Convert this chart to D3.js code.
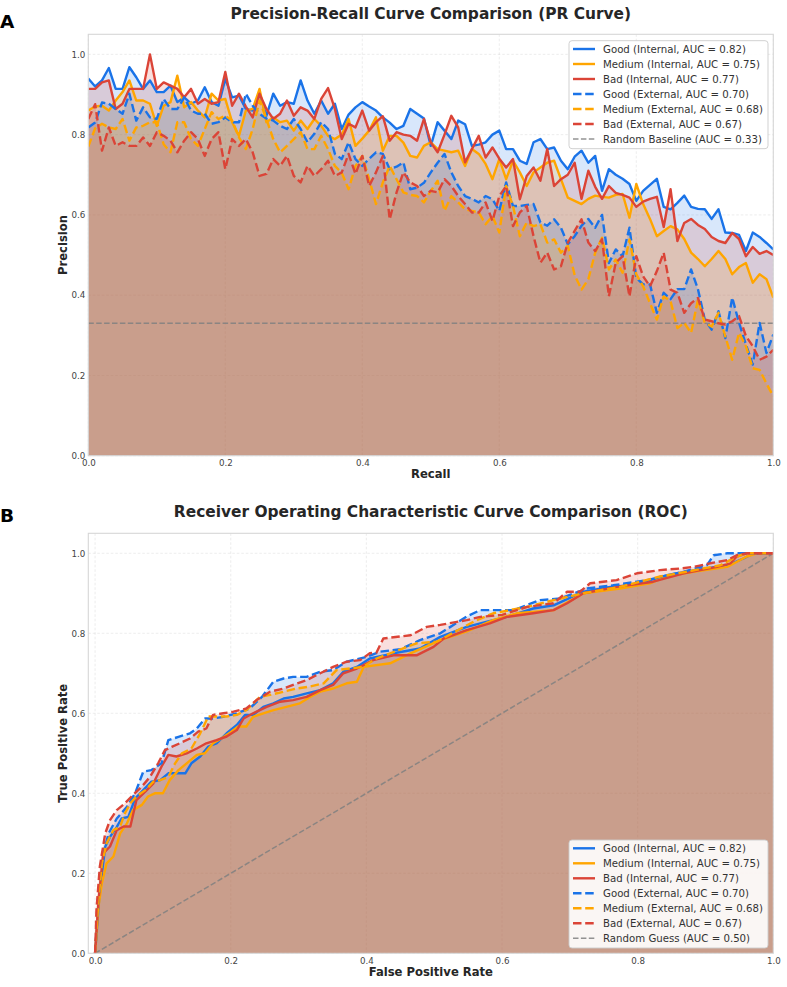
<!DOCTYPE html>
<html><head><meta charset="utf-8">
<script src="https://cdn.jsdelivr.net/npm/d3@7"></script>
<style>body{margin:0;background:#fff} svg{display:block;font-family:"DejaVu Sans",sans-serif}</style>
</head><body><svg id="c" width="787" height="987"></svg>
<script>
// ---------- DATA ----------
const seriesNames = ["Good (Internal, AUC = 0.82)","Medium (Internal, AUC = 0.75)","Bad (Internal, AUC = 0.77)",
  "Good (External, AUC = 0.70)","Medium (External, AUC = 0.68)","Bad (External, AUC = 0.67)"];
const seriesColors = ["#1a73e8","#ffa500","#db4437","#1a73e8","#ffa500","#db4437"];
const seriesDashed = [false,false,false,true,true,true];
const prBaselineLabel = "Random Baseline (AUC = 0.33)";
const rocBaselineLabel = "Random Guess (AUC = 0.50)";
const prBaselineValue = 0.33;
const xTicks = [0,0.2,0.4,0.6,0.8,1.0];
const yTicks = [0,0.2,0.4,0.6,0.8,1.0];

const recall = d3.range(0,101).map(i=>i/100);
const prGoodInt = [0.94,0.92,0.935,0.966,0.914,0.914,0.968,0.943,0.914,0.935,
0.906,0.906,0.922,0.881,0.893,0.877,0.885,0.918,0.881,0.872,
0.939,0.893,0.897,0.864,0.86,0.902,0.847,0.902,0.872,0.881,
0.877,0.935,0.885,0.852,0.885,0.852,0.877,0.814,0.85,0.868,
0.881,0.87,0.86,0.843,0.83,0.814,0.822,0.864,0.852,0.84,
0.772,0.831,0.81,0.789,0.835,0.826,0.772,0.775,0.781,0.8,
0.81,0.764,0.764,0.735,0.727,0.781,0.789,0.764,0.768,0.735,
0.714,0.745,0.76,0.73,0.747,0.66,0.714,0.70,0.69,0.677,
0.635,0.66,0.675,0.69,0.62,0.614,0.63,0.648,0.62,0.615,
0.614,0.59,0.614,0.556,0.555,0.55,0.51,0.556,0.545,0.53,
0.514];
const prMediumInt = [0.86,0.87,0.872,0.86,0.885,0.906,0.935,0.885,0.885,0.877,
0.822,0.872,0.881,0.947,0.868,0.881,0.86,0.843,0.902,0.885,
0.889,0.831,0.797,0.86,0.864,0.914,0.831,0.843,0.831,0.835,
0.81,0.835,0.814,0.839,0.822,0.797,0.789,0.8,0.839,0.772,
0.79,0.81,0.843,0.76,0.797,0.797,0.78,0.747,0.743,0.772,
0.781,0.764,0.76,0.756,0.76,0.722,0.764,0.752,0.727,0.689,
0.739,0.689,0.735,0.706,0.672,0.706,0.718,0.73,0.735,0.689,
0.643,0.635,0.627,0.64,0.648,0.645,0.643,0.65,0.652,0.593,
0.677,0.627,0.59,0.547,0.56,0.572,0.564,0.54,0.506,0.49,
0.472,0.49,0.51,0.49,0.452,0.47,0.48,0.431,0.452,0.44,
0.394];
const prBadInt = [0.914,0.914,0.93,0.935,0.864,0.877,0.914,0.914,0.914,1.0,
0.914,0.93,0.922,0.914,0.893,0.914,0.877,0.889,0.877,0.881,
0.956,0.872,0.902,0.87,0.843,0.902,0.864,0.839,0.852,0.885,
0.847,0.868,0.86,0.839,0.889,0.916,0.864,0.789,0.827,0.818,
0.86,0.81,0.831,0.846,0.785,0.806,0.8,0.797,0.785,0.839,
0.78,0.756,0.8,0.847,0.818,0.731,0.764,0.797,0.743,0.768,
0.74,0.718,0.739,0.639,0.697,0.718,0.685,0.764,0.672,0.689,
0.70,0.73,0.64,0.71,0.67,0.64,0.672,0.655,0.65,0.643,
0.62,0.633,0.64,0.645,0.57,0.664,0.535,0.58,0.59,0.575,
0.565,0.545,0.535,0.53,0.555,0.54,0.497,0.52,0.503,0.51,
0.50];
const prGoodExt = [0.818,0.83,0.88,0.877,0.864,0.852,0.902,0.835,0.868,0.843,
0.839,0.889,0.864,0.864,0.893,0.86,0.852,0.852,0.827,0.831,
0.843,0.831,0.831,0.902,0.872,0.852,0.84,0.835,0.822,0.814,
0.839,0.814,0.781,0.802,0.831,0.814,0.752,0.739,0.781,0.739,
0.722,0.74,0.756,0.752,0.714,0.72,0.731,0.664,0.668,0.68,
0.706,0.73,0.752,0.706,0.672,0.647,0.64,0.631,0.647,0.639,
0.61,0.681,0.622,0.622,0.625,0.627,0.581,0.573,0.589,0.568,
0.527,0.547,0.573,0.59,0.568,0.60,0.48,0.514,0.497,0.568,
0.443,0.427,0.427,0.356,0.406,0.39,0.415,0.415,0.464,0.415,
0.339,0.314,0.36,0.293,0.394,0.331,0.277,0.227,0.331,0.256,
0.302];
const prMediumExt = [0.77,0.816,0.827,0.818,0.814,0.839,0.785,0.818,0.822,0.831,
0.831,0.776,0.756,0.831,0.831,0.789,0.772,0.814,0.856,0.839,
0.847,0.835,0.793,0.764,0.814,0.885,0.839,0.789,0.756,0.772,
0.789,0.806,0.764,0.764,0.797,0.764,0.722,0.705,0.664,0.722,
0.747,0.689,0.627,0.681,0.722,0.689,0.656,0.65,0.647,0.631,
0.66,0.685,0.61,0.647,0.631,0.614,0.61,0.606,0.577,0.597,
0.556,0.672,0.622,0.547,0.581,0.572,0.577,0.531,0.539,0.506,
0.523,0.45,0.414,0.44,0.506,0.543,0.464,0.489,0.456,0.539,
0.452,0.422,0.38,0.339,0.397,0.385,0.318,0.331,0.306,0.389,
0.331,0.322,0.356,0.297,0.239,0.306,0.273,0.218,0.214,0.18,
0.148];
const prBadExt = [0.839,0.876,0.76,0.818,0.772,0.781,0.772,0.772,0.793,0.772,
0.806,0.797,0.785,0.756,0.785,0.806,0.789,0.747,0.789,0.806,
0.714,0.789,0.772,0.789,0.756,0.697,0.702,0.739,0.722,0.747,
0.697,0.681,0.722,0.697,0.714,0.735,0.697,0.706,0.752,0.702,
0.747,0.672,0.706,0.747,0.589,0.656,0.706,0.681,0.672,0.647,
0.66,0.656,0.689,0.672,0.647,0.627,0.606,0.606,0.631,0.585,
0.647,0.672,0.572,0.606,0.622,0.547,0.481,0.506,0.464,0.472,
0.531,0.56,0.589,0.531,0.51,0.539,0.397,0.481,0.497,0.397,
0.497,0.447,0.422,0.46,0.506,0.414,0.406,0.356,0.38,0.393,
0.339,0.335,0.33,0.327,0.335,0.348,0.298,0.273,0.239,0.247,
0.264];

// ROC: [fpr, tpr]
const rocGoodInt = [[0,0],[0.007,0.158],[0.015,0.267],[0.022,0.291],[0.032,0.316],[0.039,0.337],[0.049,0.341],[0.059,0.387],[0.071,0.408],[0.083,0.429],[0.096,0.433],[0.108,0.45],[0.12,0.45],[0.133,0.45],[0.142,0.475],[0.155,0.492],[0.167,0.517],[0.179,0.525],[0.194,0.55],[0.209,0.571],[0.221,0.596],[0.233,0.596],[0.248,0.616],[0.263,0.625],[0.278,0.637],[0.292,0.641],[0.312,0.65],[0.332,0.658],[0.351,0.675],[0.366,0.704],[0.386,0.716],[0.405,0.737],[0.44,0.75],[0.479,0.762],[0.509,0.791],[0.548,0.816],[0.578,0.829],[0.607,0.841],[0.646,0.862],[0.676,0.87],[0.72,0.904],[0.76,0.916],[0.794,0.92],[0.818,0.933],[0.843,0.945],[0.872,0.954],[0.902,0.962],[0.932,0.97],[0.956,0.987],[0.971,1.0],[1.0,1.0]];
const rocMediumInt = [[0,0],[0.005,0.117],[0.01,0.175],[0.017,0.225],[0.027,0.242],[0.037,0.3],[0.047,0.325],[0.056,0.358],[0.069,0.371],[0.078,0.392],[0.088,0.4],[0.1,0.4],[0.11,0.433],[0.123,0.458],[0.135,0.475],[0.15,0.496],[0.162,0.5],[0.174,0.525],[0.186,0.537],[0.201,0.554],[0.211,0.567],[0.223,0.567],[0.233,0.591],[0.248,0.6],[0.263,0.608],[0.282,0.616],[0.302,0.625],[0.317,0.641],[0.332,0.654],[0.351,0.662],[0.371,0.675],[0.386,0.679],[0.396,0.716],[0.435,0.725],[0.465,0.75],[0.509,0.783],[0.548,0.805],[0.587,0.833],[0.622,0.85],[0.676,0.858],[0.72,0.9],[0.774,0.912],[0.818,0.925],[0.843,0.942],[0.882,0.954],[0.932,0.966],[0.961,0.992],[0.976,1.0],[1.0,1.0]];
const rocBadInt = [[0,0],[0.005,0.133],[0.012,0.25],[0.022,0.267],[0.032,0.308],[0.042,0.317],[0.052,0.317],[0.061,0.383],[0.074,0.404],[0.086,0.425],[0.098,0.467],[0.108,0.496],[0.12,0.492],[0.135,0.5],[0.15,0.512],[0.164,0.525],[0.179,0.533],[0.194,0.542],[0.209,0.558],[0.219,0.587],[0.233,0.6],[0.253,0.616],[0.273,0.629],[0.292,0.633],[0.312,0.641],[0.332,0.658],[0.351,0.671],[0.366,0.7],[0.386,0.712],[0.41,0.733],[0.44,0.745],[0.474,0.745],[0.499,0.766],[0.514,0.787],[0.548,0.808],[0.582,0.825],[0.607,0.841],[0.646,0.85],[0.676,0.858],[0.696,0.875],[0.72,0.9],[0.769,0.916],[0.823,0.929],[0.868,0.95],[0.917,0.966],[0.937,0.975],[0.946,0.992],[0.961,1.0],[1.0,1.0]];
const rocGoodExt = [[0,0],[0.005,0.133],[0.012,0.25],[0.02,0.3],[0.032,0.337],[0.047,0.366],[0.059,0.4],[0.071,0.454],[0.083,0.458],[0.098,0.475],[0.108,0.533],[0.123,0.541],[0.14,0.55],[0.15,0.562],[0.162,0.587],[0.174,0.587],[0.189,0.591],[0.209,0.6],[0.228,0.612],[0.246,0.641],[0.263,0.679],[0.278,0.687],[0.292,0.691],[0.312,0.691],[0.332,0.704],[0.351,0.708],[0.371,0.729],[0.4,0.741],[0.42,0.754],[0.45,0.76],[0.479,0.783],[0.509,0.8],[0.548,0.842],[0.568,0.858],[0.617,0.858],[0.656,0.883],[0.686,0.887],[0.725,0.912],[0.764,0.92],[0.814,0.933],[0.843,0.945],[0.868,0.954],[0.902,0.97],[0.912,0.995],[0.932,1.0],[1.0,1.0]];
const rocMediumExt = [[0,0],[0.001,0.025],[0.005,0.133],[0.01,0.225],[0.017,0.275],[0.027,0.308],[0.037,0.317],[0.044,0.35],[0.052,0.375],[0.061,0.392],[0.074,0.408],[0.086,0.429],[0.096,0.433],[0.108,0.441],[0.118,0.475],[0.128,0.5],[0.142,0.512],[0.155,0.55],[0.167,0.592],[0.179,0.592],[0.194,0.592],[0.209,0.596],[0.223,0.608],[0.243,0.641],[0.258,0.646],[0.278,0.654],[0.297,0.662],[0.317,0.667],[0.337,0.675],[0.356,0.708],[0.376,0.712],[0.395,0.716],[0.415,0.737],[0.474,0.775],[0.504,0.779],[0.558,0.829],[0.587,0.85],[0.637,0.866],[0.686,0.887],[0.72,0.9],[0.774,0.916],[0.833,0.942],[0.872,0.954],[0.922,0.97],[0.946,0.992],[0.961,1.0],[1.0,1.0]];
const rocBadExt = [[0,0],[0.001,0.05],[0.002,0.108],[0.007,0.217],[0.015,0.3],[0.022,0.333],[0.032,0.358],[0.044,0.375],[0.056,0.396],[0.069,0.417],[0.081,0.441],[0.093,0.475],[0.103,0.508],[0.113,0.516],[0.125,0.525],[0.14,0.537],[0.152,0.554],[0.164,0.562],[0.174,0.596],[0.189,0.6],[0.204,0.604],[0.223,0.612],[0.238,0.633],[0.258,0.654],[0.278,0.662],[0.292,0.671],[0.312,0.683],[0.332,0.7],[0.351,0.716],[0.371,0.729],[0.391,0.733],[0.405,0.75],[0.415,0.752],[0.425,0.787],[0.465,0.795],[0.489,0.816],[0.509,0.821],[0.548,0.833],[0.568,0.841],[0.6,0.846],[0.637,0.866],[0.676,0.875],[0.696,0.904],[0.715,0.904],[0.73,0.925],[0.769,0.933],[0.799,0.95],[0.833,0.958],[0.863,0.962],[0.882,0.966],[0.907,0.975],[0.932,0.983],[0.946,0.995],[0.961,1.0],[1.0,1.0]];

// ---------- DRAW ----------
const svg = d3.select("#c");
const FILL_ALPHA = 0.17;

function panel(cfg){
  const g = svg.append("g");
  const x = d3.scaleLinear().domain(cfg.xDom).range([cfg.left, cfg.right]);
  const y = d3.scaleLinear().domain(cfg.yDom).range([cfg.bottom, cfg.top]);
  const clipId = "clip"+cfg.letter;
  svg.append("clipPath").attr("id",clipId).append("rect")
    .attr("x",cfg.left).attr("y",cfg.top).attr("width",cfg.right-cfg.left).attr("height",cfg.bottom-cfg.top);

  // grid
  const grid = g.append("g");
  grid.selectAll(".vx").data(xTicks).join("line")
    .attr("x1",d=>x(d)).attr("x2",d=>x(d)).attr("y1",cfg.top).attr("y2",cfg.bottom)
    .attr("stroke","#d4d4d4").attr("stroke-width",0.8).attr("stroke-dasharray","2.5,2").attr("opacity",0.5);
  grid.selectAll(".hy").data(yTicks).join("line")
    .attr("x1",cfg.left).attr("x2",cfg.right).attr("y1",d=>y(d)).attr("y2",d=>y(d))
    .attr("stroke","#d4d4d4").attr("stroke-width",0.8).attr("stroke-dasharray","2.5,2").attr("opacity",0.5);

  const plot = g.append("g").attr("clip-path",`url(#${clipId})`);
  const area = d3.area().x(d=>x(d[0])).y0(y(0)).y1(d=>y(d[1]));
  const line = d3.line().x(d=>x(d[0])).y(d=>y(d[1]));
  cfg.series.forEach((s,i)=>{
    plot.append("path").attr("d",area(s)).attr("fill",seriesColors[i]).attr("fill-opacity",FILL_ALPHA).attr("stroke","none");
  });
  plot.append("path").attr("d",line(cfg.baseline)).attr("fill","none")
    .attr("stroke","#808080").attr("stroke-opacity",0.85).attr("stroke-width",1.5).attr("stroke-dasharray","5.5,2.4");
  cfg.series.forEach((s,i)=>{
    plot.append("path").attr("d",line(s)).attr("fill","none").attr("stroke",seriesColors[i])
      .attr("stroke-width",2.4).attr("stroke-linejoin","round")
      .attr("stroke-dasharray",seriesDashed[i]?"8.5,3.7":null);
  });

  // frame
  g.append("rect").attr("x",cfg.left).attr("y",cfg.top).attr("width",cfg.right-cfg.left).attr("height",cfg.bottom-cfg.top)
    .attr("fill","none").attr("stroke","#d6d6d6").attr("stroke-width",1.1);

  // axes
  const ax = g.append("g").attr("transform",`translate(0,${cfg.bottom})`)
    .call(d3.axisBottom(x).tickValues(xTicks).tickFormat(d3.format(".1f")).tickSize(0).tickPadding(cfg.xPad));
  const ay = g.append("g").attr("transform",`translate(${cfg.left},0)`)
    .call(d3.axisLeft(y).tickValues(yTicks).tickFormat(d3.format(".1f")).tickSize(0).tickPadding(3));
  [ax,ay].forEach(a=>{
    a.select(".domain").remove();
    a.selectAll("text").attr("font-family","DejaVu Sans").attr("font-size",8.7).attr("fill","#444");
  });

  // titles
  g.append("text").attr("x",(cfg.left+cfg.right)/2).attr("y",cfg.titleY).attr("text-anchor","middle")
    .attr("font-weight","bold").attr("font-size",15.4).attr("fill","#262626").text(cfg.title);
  g.append("text").attr("x",0).attr("y",cfg.letterY).attr("font-weight","bold").attr("font-size",18.5)
    .attr("fill","#000").text(cfg.letter);
  g.append("text").attr("x",(cfg.left+cfg.right)/2).attr("y",cfg.xLabelY).attr("text-anchor","middle")
    .attr("font-weight","bold").attr("font-size",11.6).attr("fill","#262626").text(cfg.xLabel);
  g.append("text").attr("transform",`translate(67,${(cfg.top+cfg.bottom)/2}) rotate(-90)`).attr("text-anchor","middle")
    .attr("font-weight","bold").attr("font-size",11.6).attr("fill","#262626").text(cfg.yLabel);

  // legend
  const lg = g.append("g");
  const ly0 = cfg.legendY;
  lg.append("rect").attr("x",569).attr("y",ly0-8.3).attr("width",199).attr("height",108).attr("rx",3)
    .attr("fill","#fff").attr("fill-opacity",0.9).attr("stroke","#cccccc").attr("stroke-width",0.9);
  const items = seriesNames.map((n,i)=>({name:n,color:seriesColors[i],dash:seriesDashed[i]?"8.5,3.7":null,w:2.4,op:1}))
    .concat([{name:cfg.baselineLabel,color:"#808080",dash:"5.5,2.4",w:1.5,op:0.85}]);
  items.forEach((it,i)=>{
    const yy = ly0 + i*15;
    lg.append("line").attr("x1",573).attr("x2",595).attr("y1",yy).attr("y2",yy)
      .attr("stroke",it.color).attr("stroke-width",it.w).attr("stroke-opacity",it.op).attr("stroke-dasharray",it.dash);
    lg.append("text").attr("x",603).attr("y",yy+3.6).attr("font-size",10.2).attr("fill","#333").text(it.name);
  });
}

const prSeries = [prGoodInt,prMediumInt,prBadInt,prGoodExt,prMediumExt,prBadExt].map(arr=>arr.map((v,i)=>[recall[i],v]));
panel({
  letter:"A", letterY:28.3, title:"Precision-Recall Curve Comparison (PR Curve)", titleY:18.5,
  left:88.3, right:773.3, top:34.3, bottom:455.7, xDom:[0,1], yDom:[0,1.05], xPad:4.2,
  xLabel:"Recall", yLabel:"Precision", xLabelY:478,
  series:prSeries, baseline:[[0,prBaselineValue],[1,prBaselineValue]],
  baselineLabel:prBaselineLabel, legendY:49
});
panel({
  letter:"B", letterY:522, title:"Receiver Operating Characteristic Curve Comparison (ROC)", titleY:517,
  left:88.3, right:773.3, top:533.3, bottom:953.3, xDom:[-0.01,1.0], yDom:[0,1.05], xPad:4.6,
  xLabel:"False Positive Rate", yLabel:"True Positive Rate", xLabelY:976,
  series:[rocGoodInt,rocMediumInt,rocBadInt,rocGoodExt,rocMediumExt,rocBadExt], baseline:[[0,0],[1,1]],
  baselineLabel:rocBaselineLabel, legendY:848.3
});
</script></body></html>
